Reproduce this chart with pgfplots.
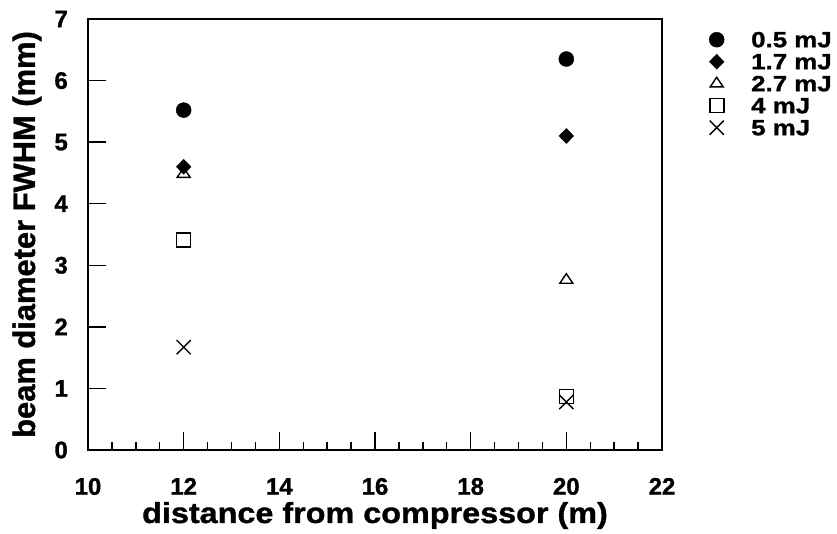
\documentclass[border=0pt]{standalone}
\usepackage{fontspec}
\setmainfont{Liberation Sans}[BoldFeatures={FakeBold=1.2}]
\newfontfamily\widefont{Liberation Sans}[FakeStretch=1.12, BoldFeatures={FakeBold=1.2}]
\newfontfamily\widerfont{Liberation Sans}[FakeStretch=1.18, BoldFeatures={FakeBold=1.2}]
\usepackage{pgfplots}
\pgfplotsset{compat=1.18}
\begin{document}
\begin{tikzpicture}
\begin{axis}[
  name=ax,
  scale only axis,
  width=574bp, height=431bp,
  xmin=10, xmax=22, ymin=0, ymax=7,
  xtick={10,12,14,16,18,20,22}, xticklabels={10,12,14,16,18,20,22},
  ytick={0,1,2,3,4,5,6,7}, yticklabels={0,1,2,3,4,5,6,7},
  minor x tick num=3,
  tick align=inside, tick pos=left,
  major tick length=18bp, minor tick length=8bp,
  axis line style={line width=1.6bp},
  every tick/.style={line width=1.4bp, black},
  tick label style={font=\fontsize{24}{27}\selectfont\bfseries},
  xticklabel style={anchor=north, inner sep=0pt, yshift=-27bp, text height=17.5bp, text depth=0bp},
  yticklabel style={anchor=east, inner sep=0pt, xshift=-20bp},
  xlabel={distance from compressor (m)},
  ylabel={beam diameter FWHM (mm)},
  xlabel style={at={(axis description cs:0.5,0)}, anchor=base, yshift=-73bp,
    font=\fontsize{29}{32}\selectfont\widefont\bfseries},
  ylabel style={at={(axis description cs:-0.1063,0.5)}, anchor=center,
    font=\fontsize{31}{34}\selectfont\bfseries},
  legend style={at={(1,1)}, anchor=north west, xshift=47bp, yshift=-13bp,
    draw=none, inner sep=0pt, fill=none,
    font=\fontsize{22}{24}\selectfont\widerfont\bfseries, row sep=7bp,
    /tikz/every odd column/.append style={column sep=27bp},
    nodes={inner sep=0pt, text height=15bp, text depth=0bp}},
  legend cell align=left,
  legend image code/.code={\draw[#1] plot coordinates {(0bp,0bp)};},
]
\addplot[only marks, mark=*, mark size=7.5bp, black] coordinates {(12,5.52) (20,6.35)};
\addlegendentry{0.5 mJ}
\addplot[only marks, mark=diamond*, mark size=7.5bp, black, mark options={xscale=1.3}] coordinates {(12,4.60) (20,5.10)};
\addlegendentry{1.7 mJ}
\addplot[only marks, mark=triangle, mark size=7.5bp, black, mark options={line width=1.4bp, yscale=0.85}] coordinates {(12,4.48) (20,2.76)};
\addlegendentry{2.7 mJ}
\addplot[only marks, mark=square, mark size=7bp, black, mark options={line width=1.6bp}] coordinates {(12,3.41) (20,0.87)};
\addlegendentry{4 mJ}
\addplot[only marks, mark=x, mark size=10bp, black, mark options={line width=1.4bp}] coordinates {(12,1.67) (20,0.78)};
\addlegendentry{5 mJ}
\end{axis}
\pgfresetboundingbox
\path ([xshift=-88bp,yshift=-84bp]ax.south west) rectangle ([xshift=175bp,yshift=19bp]ax.north east);
\end{tikzpicture}
\end{document}
